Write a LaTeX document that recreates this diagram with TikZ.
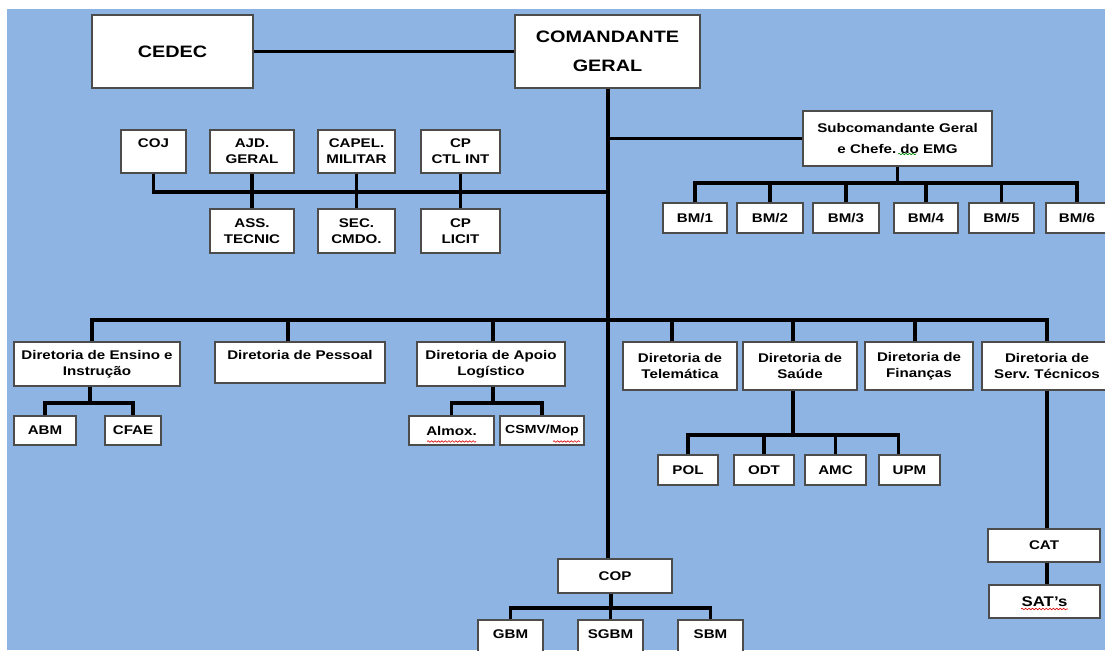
\documentclass[tikz,border=0pt]{standalone}
\usepackage{fontspec}
\setmainfont{Liberation Sans}[FakeStretch=1.2]
\frenchspacing
\usetikzlibrary{calc,decorations.pathmorphing}
\definecolor{chartbg}{HTML}{8EB4E3}
\tikzset{
  orgbox/.style={draw=black!70, line width=0.9pt, fill=white, inner sep=0pt,
    align=center, font=\bfseries\fontsize{9.45}{12}\selectfont},
  bigbox/.style={font=\bfseries\fontsize{12.4}{22}\selectfont},
  link/.style={line width=2.6pt, black},
  trunk/.style={line width=3pt, black},
  squiggle/.style={line width=0.45pt, decorate,
    decoration={snake, amplitude=0.6pt, segment length=2.6pt}}
}
% \orgnode[style]{name}{x1}{y1}{x2}{y2}{text}
\newcommand\orgnode[7][]{%
  \node[orgbox,#1,minimum width={(#5-#3)*0.75pt},minimum height={(#6-#4)*0.75pt}]
    (#2) at ({(#3+#5)/2},{(#4+#6)/2}) {#7};}
\begin{document}
\begin{tikzpicture}[x=0.75pt,y=-0.75pt]
\useasboundingbox (0,0) rectangle (1105,650);
\clip (0,0) rectangle (1105,650);
\fill[white] (0,0) rectangle (1105,650);
\fill[chartbg] (7,9) rectangle (1105,650);

% bus levels
\coordinate (cbus) at (0,192);
\coordinate (sbus) at (0,183);
\coordinate (dbus) at (0,320);
\coordinate (ebus) at (0,403);
\coordinate (hbus) at (0,435);
\coordinate (obus) at (0,608);

% top level
\orgnode[bigbox]{cedec}{92}{15}{253}{88}{CEDEC}
\orgnode[bigbox]{cg}{515}{15}{700}{88}{COMANDANTE\\GERAL}
\orgnode{sub}{803}{111}{992}{166}{Subcomandante Geral\\[4pt]e Chefe. do EMG}

% staff
\orgnode{coj}{121}{130}{186}{173}{COJ\\\mbox{}}
\orgnode{ajd}{210}{130}{294}{173}{AJD.\\GERAL}
\orgnode{cap}{318}{130}{395}{173}{CAPEL.\\MILITAR}
\orgnode{cpc}{421}{130}{500}{173}{CP\\CTL INT}
\orgnode{ass}{210}{209}{294}{253}{ASS.\\TECNIC}
\orgnode{sec}{318}{209}{395}{253}{SEC.\\CMDO.}
\orgnode{cpl}{421}{209}{500}{253}{CP\\LICIT}

% BM sections
\orgnode{bm1}{663}{203}{727}{233}{BM/1}
\orgnode{bm2}{737}{203}{803}{233}{BM/2}
\orgnode{bm3}{813}{203}{879}{233}{BM/3}
\orgnode{bm4}{894}{203}{958}{233}{BM/4}
\orgnode{bm5}{969}{203}{1034}{233}{BM/5}
\orgnode{bm6}{1046}{203}{1108}{233}{BM/6}

% directorates
\orgnode{ens}{14}{342}{180}{386}{Diretoria de Ensino e\\Instrução}
\orgnode{pes}{215}{342}{385}{383}{Diretoria de Pessoal\\\mbox{}}
\orgnode{apo}{417}{342}{565}{386}{Diretoria de Apoio\\Logístico}
\orgnode{tel}{623}{342}{737}{390}{Diretoria de\\Telemática}
\orgnode{sau}{743}{342}{857}{390}{Diretoria de\\Saúde}
\orgnode{fin}{865}{342}{973}{390}{Diretoria de\\Finanças}
\orgnode{st}{982}{342}{1112}{390}{Diretoria de\\Serv. Técnicos}

% units below directorates
\orgnode{abm}{14}{416}{76}{445}{ABM}
\orgnode{cfae}{105}{416}{161}{445}{CFAE}
\orgnode{alm}{409}{416}{494}{445}{Almox.}
\orgnode[font=\bfseries\fontsize{8.8}{12}\selectfont]{csmv}{500}{416}{584}{445}{CSMV/Mop}
\orgnode{pol}{658}{455}{718}{485}{POL}
\orgnode{odt}{734}{455}{794}{485}{ODT}
\orgnode{amc}{805}{455}{866}{485}{AMC}
\orgnode{upm}{879}{455}{940}{485}{UPM}
\orgnode{cat}{988}{529}{1100}{562}{CAT}
\orgnode[font=\bfseries\fontsize{10.5}{12}\selectfont]{sat}{989}{585}{1100}{618}{SAT’s}

% operations
\orgnode{cop}{558}{559}{672}{593}{COP}
\orgnode{gbm}{478}{620}{543}{665}{GBM\\\mbox{}}
\orgnode{sgbm}{578}{620}{643}{665}{SGBM\\\mbox{}}
\orgnode{sbm}{678}{620}{743}{665}{SBM\\\mbox{}}

% connectors: top
\draw[link] (cedec.east) -- (cg.west);
\draw[trunk] (cg.south) -- (cg.south |- cop.north);
\draw[link] (cg.south |- sub.west) -- (sub.west);

% subcommand to BM sections
\draw[link] (sub.south) -- (sub.south |- sbus);
\draw[link] (bm1.north) |- (bm6.north |- sbus) -- (bm6.north);
\foreach \b in {bm2,bm3,bm4,bm5}
  \draw[link] (\b.north) -- (\b.north |- sbus);

% staff bus
\draw[link] (coj.south) |- (cg.south |- cbus);
\draw[link] (ajd.south) -- (ass.north);
\draw[link] (cap.south) -- (sec.north);
\draw[link] (cpc.south) -- (cpl.north);

% directorate bus
\draw[link] ($(ens.north)+(-5,0)$) |- (st.north |- dbus) -- (st.north);
\foreach \d/\s in {pes/-12,apo/2,tel/-8,sau/-7,fin/-4}
  \draw[link] ($(\d.north)+(\s,0)$) -- ($(\d.north |- dbus)+(\s,0)$);

% teaching
\draw[link] ($(ens.south)+(-7,0)$) -- ($(ens.south |- ebus)+(-7,0)$);
\draw[link] (abm.north) |- (cfae.north |- ebus) -- (cfae.north);
% logistics
\draw[link] ($(apo.south)+(2,0)$) -- ($(apo.south |- ebus)+(2,0)$);
\draw[link] (alm.north) |- (csmv.north |- ebus) -- (csmv.north);
% health
\draw[link] ($(sau.south)+(-7,0)$) -- ($(sau.south |- hbus)+(-7,0)$);
\draw[link] (pol.north) |- ($(upm.north |- hbus)+(-11,0)$) -- ($(upm.north)+(-11,0)$);
\foreach \u in {odt,amc}
  \draw[link] (\u.north) -- (\u.north |- hbus);
% technical services
\draw[link] (st.south) -- (st.south |- cat.north);
\draw[link] (st.south |- cat.south) -- (st.south |- sat.north);
% operations
\draw[link] ($(cop.south)+(-4,0)$) -- ($(cop.south |- obus)+(-4,0)$);
\draw[link] (gbm.north) |- (sbm.north |- obus) -- (sbm.north);
\draw[link] (sgbm.north) -- (sgbm.north |- obus);

% spell-check marks
\draw[squiggle, red!85!black] (427,441.5) -- (476,441.5);
\draw[squiggle, red!85!black] (553,441.5) -- (580,441.5);
\draw[squiggle, red!85!black] (1021,609) -- (1068,609);
\draw[squiggle, green!55!black] (898,154) -- (916,154);
\end{tikzpicture}
\end{document}
